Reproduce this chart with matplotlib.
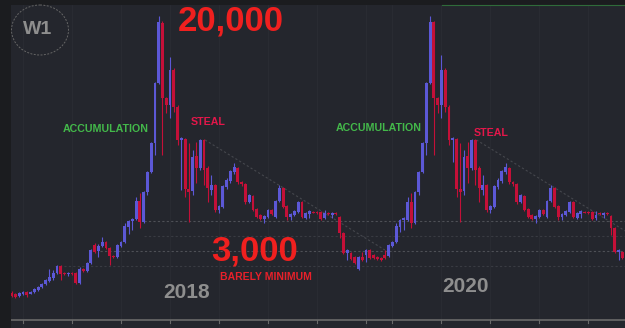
import matplotlib
matplotlib.use("Agg")
import matplotlib.pyplot as plt
from matplotlib.patches import Ellipse

# weekly candles (values in chart units)
opens = [27, 26, 24, 26, 28, 26.5, 28, 30, 33, 36, 39, 42, 47, 54, 47, 46, 47, 47, 37, 51,
         49, 57, 75, 69, 74, 78, 72, 64, 63, 74, 78, 93, 99, 101, 119, 98, 128, 148, 177, 237,
         297, 222, 215, 250, 213, 180.5, 181, 131, 129, 164, 152, 180, 152, 130, 135, 110, 113, 133, 139, 148,
         152, 138, 136, 118, 124, 111, 105, 101, 103, 110, 103, 119, 132, 114, 103, 105, 108, 118, 102, 106,
         108.5, 108, 108, 102, 107, 105, 107, 103, 87, 67, 67, 63, 51, 63, 65, 70, 65, 63, 62, 65,
         64, 74, 78, 93, 100, 100, 118, 97, 128, 148, 177, 237, 298, 222, 215, 250, 213, 180.5, 181, 131,
         129, 164, 152, 180, 152, 130, 135, 110, 113, 133, 139, 148, 152, 138, 136, 118, 124, 111, 105, 101,
         103, 110, 103, 119, 132, 114, 103, 105, 108, 118, 102, 106, 108.5, 108, 108, 102, 107, 105, 107, 104,
         92, 68, 68, 62]
highs = [29, 27, 28, 29, 29, 29, 32, 34, 37, 41, 51, 50, 55, 55, 48, 48, 48, 48, 53, 52,
         58, 71, 77, 76, 83, 79, 73, 65, 76, 79, 97, 100, 102, 123, 127, 129, 149, 178, 238, 304,
         299, 223, 263, 252, 215, 183, 182, 177, 170, 178, 181, 181, 154, 145, 136, 115, 135, 142, 150, 157,
         153, 139, 137, 126, 125, 112, 106, 105, 111, 111, 120, 135, 133, 115, 107, 110, 119, 119, 108, 110,
         109, 109, 109, 110, 108, 108, 108, 104, 88, 71, 68, 64, 64, 68, 71, 71, 66, 64, 63, 70,
         76, 79, 97, 101, 103, 123, 127, 129, 149, 178, 238, 304, 299, 223, 265, 252, 215, 183, 182, 177,
         170, 178, 181, 181, 154, 145, 136, 115, 135, 142, 150, 157, 153, 139, 137, 126, 125, 112, 106, 105,
         111, 111, 120, 135, 133, 115, 107, 110, 119, 119, 108, 110, 109, 109, 109, 109, 108, 108, 108, 105,
         93, 71, 69, 63]
lows = [23, 22, 23, 25, 23, 26, 27, 29, 32, 35, 38, 40, 46, 40, 45, 44, 45, 36, 36, 48,
        48, 56, 67, 63, 73, 71, 55, 62, 62, 73, 77, 86, 90, 100, 92, 97, 125, 147, 165, 236,
        165, 207, 202, 208, 175, 130, 123, 98, 125, 137, 150, 135, 118, 125, 108, 107, 112, 131, 137, 146,
        136, 134, 116, 117, 109, 102, 100, 97, 102, 105, 102, 118, 112, 100, 100, 104, 107, 102, 101, 102,
        107, 106, 100, 101, 105, 102, 105, 82, 66, 60, 60, 56, 50, 59, 58, 61, 61, 60.5, 59, 61,
        63, 73, 77, 88, 90, 99, 92, 96, 125, 147, 165, 236, 165, 207, 202, 208, 175, 158, 123, 98,
        125, 137, 150, 135, 118, 125, 108, 107, 112, 131, 137, 146, 136, 134, 116, 117, 109, 102, 100, 97,
        102, 105, 102, 118, 112, 100, 100, 104, 107, 102, 101, 102, 107, 106, 100, 100, 105, 102, 105, 85,
        67, 60, 61, 56]
closes = [24, 23, 27, 28, 25, 28, 31, 33, 36, 40, 43, 47, 54, 46, 46, 47, 46, 37, 51, 49,
          57, 70, 68, 74, 78, 72, 64, 63, 75, 78, 94, 99, 101, 119, 98, 128, 148, 177, 237, 298,
          222, 215, 250, 213, 180, 182, 131, 128, 163, 152, 180, 150, 132, 135, 110, 114, 134, 140, 149, 153,
          138, 136, 118, 125, 110, 103, 101, 104, 110, 106, 119, 132, 113, 103, 106, 109, 118, 103, 107, 109,
          107.5, 107, 101, 107, 106, 107, 106, 87, 67, 70, 61, 57, 63, 60, 70, 62, 62, 61.5, 60, 62,
          75, 78, 94, 100, 102, 118, 97, 128, 148, 177, 237, 298, 222, 215, 250, 213, 180, 182, 131, 128,
          163, 152, 180, 150, 132, 135, 110, 114, 134, 140, 149, 153, 138, 136, 118, 125, 110, 103, 101, 104,
          110, 106, 119, 132, 113, 103, 106, 109, 118, 103, 107, 109, 107.5, 107, 101, 105, 106, 107, 106, 92,
          68, 70, 62, 57]

levels = [99, 84, 69, 54]            # dotted price levels
level_start = [35, 35, 23.5, 11.5]   # candle index where each level starts
level_col = ['#4e5056', '#393b42', '#4e5056', '#393b42']
tick_idx = [3, 16, 29, 42, 55, 68, 81, 94, 101, 114, 127, 140, 153]

up_col = '#5c58d6'
dn_col = '#c41038'
bg = '#24262d'

fig = plt.figure(figsize=(6.25, 3.28), dpi=100)
fig.patch.set_facecolor('#1b1c1f')

ax = fig.add_axes([11 / 625, 0, 614 / 625, 323 / 328])
ax.set_facecolor(bg)
for s in ax.spines.values():
    s.set_visible(False)
ax.set_xticks([])
ax.set_yticks([])
ax.set_xlim(-0.19, 162.7)
ax.set_ylim(-8, 315)

# grid / levels
for t in tick_idx:
    ax.axvline(t, color='#2a2c34', lw=0.6, zorder=0)
    ax.plot([t, t], [0, -2.5], color='#6a6a6a', lw=0.8, zorder=1)
for lv, st, lc in zip(levels, level_start, level_col):
    ax.plot([st, 163], [lv, lv], color=lc, lw=0.8, ls=(0, (2, 2)), zorder=1)
ax.axhline(0, color='#6a6a6a', lw=1.2, zorder=1)

# trend lines
ax.plot([51.3, 99], [180, 70], color='#45474d', lw=0.8, ls=(0, (2, 2)), zorder=1)
ax.plot([123.3, 163], [180, 88.5], color='#45474d', lw=0.8, ls=(0, (2, 2)), zorder=1)

# candles
for i in range(len(opens)):
    o, h, l, c = opens[i], highs[i], lows[i], closes[i]
    col = up_col if c >= o else dn_col
    ax.vlines(i, l, h, color=col, lw=0.8, zorder=2)
    ax.bar(i, max(abs(c - o), 0.8), bottom=min(o, c), width=0.75, color=col, zorder=3, linewidth=0)

# overlay for labels, pixel coordinates
ov = fig.add_axes([0, 0, 1, 1])
ov.set_xlim(0, 625)
ov.set_ylim(328, 0)
ov.axis('off')

ov.plot([442, 625], [5, 5], color='#2f6b3a', lw=0.8)
ov.add_patch(Ellipse((40, 30), 57, 50, fill=False, ec='#666666', lw=0.7, ls=(0, (2, 1.5))))

font = 'Liberation Sans'
ov.text(37.5, 30, 'W1', color='#8e8e8e', fontsize=14, fontweight='bold', family=font, ha='center', va='center')
ov.text(231, 21.5, '20,000', color='#f0201f', fontsize=25, fontweight='bold', family=font, ha='center', va='center')
ov.text(255, 251, '3,000', color='#f0201f', fontsize=25, fontweight='bold', family=font, ha='center', va='center')
ov.text(265.5, 276.5, 'BARELY MINIMUM', color='#e8202a', fontsize=7.5, fontweight='bold', family=font, ha='center', va='center')
ov.text(105.3, 129, 'ACCUMULATION', color='#43b84a', fontsize=7.7, fontweight='bold', family=font, ha='center', va='center')
ov.text(378.7, 128, 'ACCUMULATION', color='#43b84a', fontsize=7.7, fontweight='bold', family=font, ha='center', va='center')
ov.text(207.7, 122, 'STEAL', color='#e3174a', fontsize=7.7, fontweight='bold', family=font, ha='center', va='center')
ov.text(490.8, 132.5, 'STEAL', color='#e3174a', fontsize=7.7, fontweight='bold', family=font, ha='center', va='center')
ov.text(186.7, 292, '2018', color='#8e8e8e', fontsize=15, fontweight='bold', family=font, ha='center', va='center')
ov.text(465.8, 287, '2020', color='#8e8e8e', fontsize=15, fontweight='bold', family=font, ha='center', va='center')

fig.savefig('out.png', dpi=100, facecolor=fig.get_facecolor())
